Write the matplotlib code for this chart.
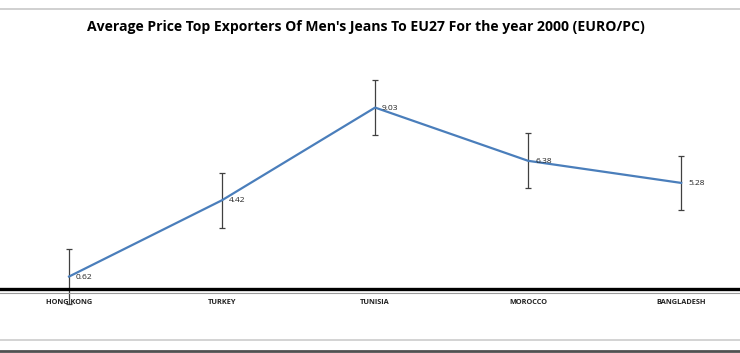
import matplotlib.pyplot as plt
from matplotlib.lines import Line2D

# data
countries = ['HONG KONG', 'TURKEY', 'TUNISIA', 'MOROCCO', 'BANGLADESH']
prices = [0.62, 4.42, 9.03, 6.38, 5.28]
errors = [1.36, 1.36, 1.36, 1.36, 1.36]
title = "Average Price Top Exporters Of Men's Jeans To EU27 For the year 2000 (EURO/PC)"

plt.rcParams['font.family'] = ['Open Sans', 'DejaVu Sans']

fig = plt.figure(figsize=(7.4, 3.53), dpi=100)
ax = fig.add_axes([-0.0101, 0.1813, 1.034, 0.683])

x = list(range(len(countries)))
ax.plot(x, prices, color='#4a7ebb', lw=1.6, zorder=3)
ax.errorbar(x, prices, yerr=errors, fmt='none', ecolor='#404040',
            elinewidth=0.9, capsize=2.2, capthick=0.9, clip_on=False, zorder=2)
for xi, v in zip(x, prices):
    ax.annotate(f'{v:.2f}', (xi, v), xytext=(5, -0.5), textcoords='offset points',
                ha='left', va='center', fontsize=6, color='#222222')

ax.set_xlim(-0.5, 4.5)
ax.set_ylim(0, 12)
ax.set_xticks(x)
ax.set_xticklabels(countries, fontsize=5.3, fontweight='bold', color='#222222')
ax.tick_params(axis='x', length=0, pad=7)
ax.set_yticks([])
for s in ['top', 'left', 'right']:
    ax.spines[s].set_visible(False)
ax.spines['bottom'].set_linewidth(2.4)
ax.spines['bottom'].set_color('black')

fig.text(0.495, 0.923, title, ha='center', va='center', fontsize=10.1,
         fontweight='bold', color='black')

# frame lines of the screenshot
fig.add_artist(Line2D([0, 1], [1 - 9 / 353, 1 - 9 / 353], color='#c8c8c8', lw=1.2))
fig.add_artist(Line2D([0, 1], [1 - 293 / 353, 1 - 293 / 353], color='#9a9a9a', lw=0.8))
fig.add_artist(Line2D([0, 1], [1 - 340 / 353, 1 - 340 / 353], color='#cccccc', lw=1.2))
fig.add_artist(Line2D([0, 1], [1 - 350.5 / 353, 1 - 350.5 / 353], color='#505050', lw=2.0))

fig.savefig('out.png', dpi=100)
